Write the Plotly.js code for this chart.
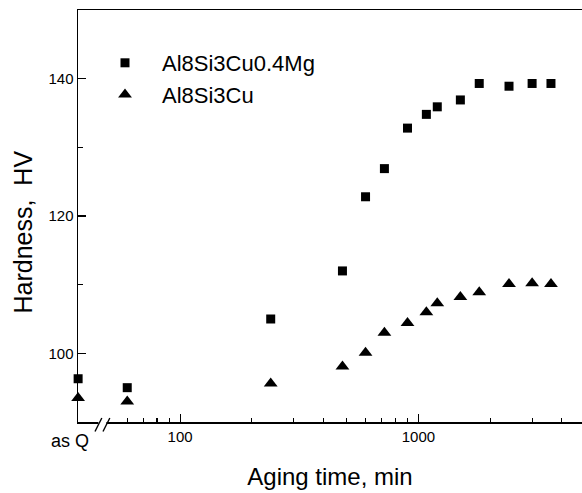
<!DOCTYPE html>
<html>
<head>
<meta charset="utf-8">
<script src="https://cdn.plot.ly/plotly-3.0.1.min.js"></script>
<style>html,body{margin:0;padding:0;background:#fff;}#chart{width:582px;height:493px;}</style>
</head>
<body>
<div id="chart"></div>
<script>
// Aging times (min); "as Q" = as-quenched state, drawn left of the axis break
const agingTimes = ['as Q', 60, 240, 480, 600, 720, 900, 1080, 1200, 1500, 1800, 2400, 3000, 3600];
const hardnessMg = [96.3, 95.0, 105.0, 112.0, 122.8, 126.9, 132.8, 134.8, 135.9, 136.9, 139.3, 138.9, 139.3, 139.3];
const hardnessCu = [93.5, 93.0, 95.6, 98.1, 100.1, 103.0, 104.4, 106.0, 107.3, 108.2, 108.9, 110.1, 110.2, 110.1];
const seriesNames = ['Al8Si3Cu0.4Mg', 'Al8Si3Cu'];
const xTickVals = [100, 1000];
const xTickText = ['100', '1000'];
const xMinorTicks = [60, 70, 80, 90, 200, 300, 400, 500, 600, 700, 800, 900, 2000, 3000, 4000];
const yTickVals = [100, 120, 140];
const yMinorTicks = [110, 130];

// axis layout (log axis), as-Q position sits on the left edge of the axis
const X_LOG_MIN = 1.5715, X_LOG_MAX = 3.6865;
const asQPos = Math.pow(10, 1.572);
const xVals = agingTimes.map(t => t === 'as Q' ? asQPos : t);

const W = 582, H = 493, ML = 78, MR = 0, MT = 10, MB = 71;
const PW = W - ML - MR, PH = H - MT - MB;
const px = x => (x - ML) / PW;
const py = y => (H - MB - y) / PH;

const font = 'Liberation Sans, Arial, sans-serif';

const traces = [
  {x: xVals, y: hardnessMg, name: seriesNames[0], mode: 'markers', type: 'scatter', cliponaxis: false,
   marker: {symbol: 'square', size: 9, color: '#000'}},
  {x: xVals, y: hardnessCu, name: seriesNames[1], mode: 'markers', type: 'scatter', cliponaxis: false,
   marker: {symbol: 'triangle-up', size: 12, color: '#000'}}
];

const layout = {
  width: W, height: H,
  margin: {l: ML, r: MR, t: MT, b: MB},
  paper_bgcolor: '#fff', plot_bgcolor: '#fff',
  font: {family: font, color: '#000'},
  showlegend: true,
  legend: {x: px(88), y: py(42), xanchor: 'left', yanchor: 'top', bgcolor: 'rgba(0,0,0,0)',
           itemwidth: 64,
           font: {size: 22, family: font, color: '#000'}, tracegroupgap: 0},
  xaxis: {
    type: 'log', range: [X_LOG_MIN, X_LOG_MAX],
    showgrid: false, zeroline: false,
    showline: true, linecolor: '#000', linewidth: 1.5, mirror: true,
    ticks: 'inside', ticklen: 8, tickwidth: 1.2, tickcolor: '#000',
    tickvals: xTickVals, ticktext: xTickText,
    tickfont: {size: 15, family: font, color: '#000'},
    minor: {tickvals: xMinorTicks, ticks: 'inside', ticklen: 4.5, tickwidth: 1.2, tickcolor: '#000', showgrid: false},
    title: {text: 'Aging time, min', font: {size: 24, family: font, color: '#000'}, standoff: 24}
  },
  yaxis: {
    range: [90, 150],
    showgrid: false, zeroline: false,
    showline: true, linecolor: '#000', linewidth: 1.5, mirror: false,
    ticks: 'inside', ticklen: 8, tickwidth: 1.2, tickcolor: '#000',
    tickvals: yTickVals,
    tickfont: {size: 15, family: font, color: '#000'},
    minor: {tickvals: yMinorTicks, ticks: 'inside', ticklen: 5, tickwidth: 1.2, tickcolor: '#000', showgrid: false}
  },
  annotations: [
    {text: 'Hardness,  HV', xref: 'paper', yref: 'paper', x: px(23), y: py(232.5),
     xanchor: 'center', yanchor: 'middle', textangle: -90, showarrow: false,
     font: {size: 25, family: font, color: '#000'}},
    {text: 'as Q', xref: 'paper', yref: 'paper', x: px(70), y: py(429),
     xanchor: 'center', yanchor: 'top', showarrow: false,
     font: {size: 18, family: font, color: '#000'}}
  ],
  shapes: [
    {type: 'rect', xref: 'paper', yref: 'paper', x0: px(98.4), x1: px(106.4), y0: py(425), y1: py(419),
     fillcolor: '#fff', line: {width: 0}, layer: 'above'},
    {type: 'line', xref: 'paper', yref: 'paper', x0: px(95), y0: py(431.5), x1: px(101.8), y1: py(418),
     line: {color: '#000', width: 1.4}, layer: 'above'},
    {type: 'line', xref: 'paper', yref: 'paper', x0: px(103), y0: py(431.5), x1: px(109.8), y1: py(418),
     line: {color: '#000', width: 1.4}, layer: 'above'}
  ]
};

Plotly.newPlot('chart', traces, layout, {displayModeBar: false, staticPlot: true});
</script>
</body>
</html>
